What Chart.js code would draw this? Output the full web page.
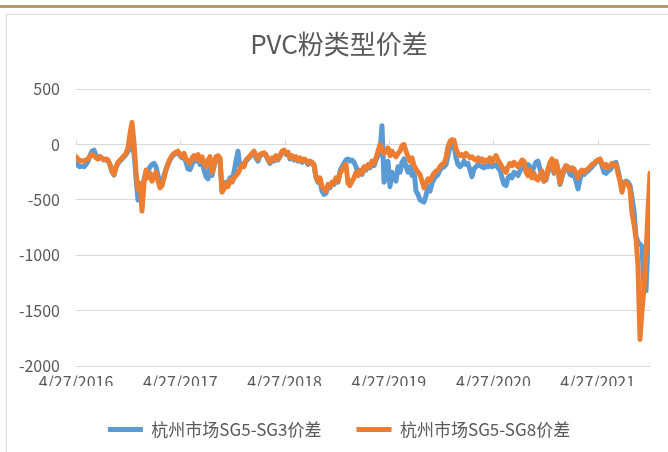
<!DOCTYPE html>
<html>
<head>
<meta charset="utf-8">
<script src="https://cdn.jsdelivr.net/npm/chart.js@4.4.1/dist/chart.umd.min.js"></script>
<style>
  body { margin: 0; background: #fff; }
  #wrap { position: relative; width: 668px; height: 452px; overflow: hidden; }
  #goldBar { position: absolute; left: 0; top: 5px; width: 668px; height: 3px; background: #b8996a; }
  #frame { position: absolute; left: 6px; top: 14px; width: 700px; height: 500px; border: 1px solid #d9d9d9; }
  #chart { position: absolute; left: 0; top: 0; }
</style>
</head>
<body>
<div id="wrap">
  <div id="goldBar"></div>
  <div id="frame"></div>
  <canvas id="chart" width="678" height="452"></canvas>
</div>
<script>
// 周度数据, 起点 4/27/2016, 每点间隔7天
const stepDays = 7

const tickDays = [0, 365, 730, 1095, 1461, 1826]
const tickLabels = ['4/27/2016', '4/27/2017', '4/27/2018', '4/27/2019', '4/27/2020', '4/27/2021']

const seriesNames = ['杭州市场SG5-SG3价差', '杭州市场SG5-SG8价差']

// 杭州市场SG5-SG3价差
const sg3Spread = [
  -150, -190, -200, -195, -200, -180, -150, -100, -60, -50,
  -100, -120, -110, -125, -140, -135, -145, -185, -245, -275,
  -210, -170, -150, -130, -110, -90, -60, -20, 0, -80,
  -300, -500, -480, -420, -320, -250, -240, -200, -180, -170,
  -200, -280, -360, -340, -280, -220, -180, -140, -110, -90,
  -80, -70, -100, -120, -100, -160, -220, -225, -180, -130,
  -150, -110, -180, -140, -230, -290, -310, -200, -280, -200,
  -120, -110, -130, -420, -380, -340, -360, -300, -310, -250,
  -150, -60, -200, -200, -170, -150, -130, -110, -90, -70,
  -120, -150, -100, -90, -80, -100, -140, -170, -130, -150,
  -110, -140, -110, -70, -60, -90, -70, -130, -110, -140,
  -120, -150, -130, -160, -140, -150, -180, -160, -170, -190,
  -300, -340, -330, -420, -450, -440, -380, -390, -350, -360,
  -320, -340, -240, -200, -170, -140, -130, -150, -140, -160,
  -200, -260, -240, -270, -210, -230, -200, -210, -180, -190,
  -140, -100, -60, 170, -340, -280, -150, -380, -250, -300,
  -330, -200, -250, -160, -130, -200, -250, -200, -280, -230,
  -420, -450, -500, -510, -520, -460, -380, -420, -350, -310,
  -290, -270, -230, -210, -200, -180, -100, -20, 10, -10,
  -120, -180, -200, -180, -150, -180, -170, -230, -290, -220,
  -200, -180, -190, -200, -210, -190, -200, -180, -200, -190,
  -180, -210, -230, -300, -360, -370, -300, -280, -300, -250,
  -260, -280, -240, -200, -190, -220, -180, -200, -250, -200,
  -160, -150, -220, -290, -330, -320, -250, -200, -170, -260,
  -160, -230, -360, -290, -240, -210, -220, -270, -280, -250,
  -330, -400, -310, -260, -270, -250, -240, -220, -200, -180,
  -160, -150, -140, -190, -250, -260, -240, -230, -200, -170,
  -160, -230, -320, -380, -340, -330, -340, -370, -480, -600,
  -830, -880, -900, -920, -1300, -1320, -900, -560
]

// 杭州市场SG5-SG8价差
const sg8Spread = [
  -110, -130, -150, -145, -150, -140, -130, -110, -90, -100,
  -120, -130, -110, -125, -135, -130, -140, -180, -240, -270,
  -200, -160, -140, -120, -100, -80, -30, 100, 200, 20,
  -250, -400, -350, -600, -350, -230, -300, -260, -330, -280,
  -250, -330, -390, -370, -300, -230, -170, -130, -100, -80,
  -70, -60, -90, -110, -80, -130, -150, -170, -120, -100,
  -130, -90, -150, -110, -170, -200, -140, -110, -250, -180,
  -110, -100, -120, -430, -400, -350, -380, -320, -340, -300,
  -280, -260, -220, -180, -200, -140, -120, -100, -80, -60,
  -100, -130, -90, -80, -75, -90, -130, -160, -120, -140,
  -100, -130, -100, -60, -50, -80, -70, -120, -100, -130,
  -110, -140, -120, -150, -130, -140, -170, -150, -160, -180,
  -290, -330, -300, -380, -400, -420, -360, -380, -340, -350,
  -300, -330, -260, -230, -200, -180, -350, -370, -330, -300,
  -250, -280, -230, -260, -200, -220, -180, -200, -150, -170,
  -120, -60, 0, -50, -80, -60, -30, -100, -60, -90,
  -110, -80, -60, -10, 0, -60, -110, -150, -120, -190,
  -220, -250, -270, -330, -390, -350, -310, -330, -290, -260,
  -240, -230, -200, -180, -170, -120, -20, 30, 45, 40,
  -40, -80, -100, -90, -110, -80, -100, -120, -110, -130,
  -140, -120, -150, -130, -160, -140, -150, -120, -160, -130,
  -100, -140, -170, -200, -230, -250, -200, -170, -190, -160,
  -180, -200, -170, -140, -150, -250, -280, -230, -300, -260,
  -310, -320, -280, -240, -330, -300, -220, -160, -130, -250,
  -150, -220, -350, -280, -220, -190, -200, -230, -210, -220,
  -260, -300, -250, -230, -250, -230, -220, -200, -180, -170,
  -150, -140, -130, -170, -200, -180, -210, -190, -170, -190,
  -180, -260, -330, -430, -350, -340, -360, -400, -620, -720,
  -850, -1100, -1760, -1500, -1300, -1000, -600, -260
]

const dayLabels = sg8Spread.map((v, i) => i * stepDays)

const textColor = '#595959'
const gridColor = '#d9d9d9'
const fontFamily = '"Noto Sans CJK SC", "Noto Sans", sans-serif'

// 0轴上的小刻度线
const zeroAxisTicks = {
  id: 'zeroAxisTicks',
  beforeDatasetsDraw(chart) {
    const xScale = chart.scales.x
    const yScale = chart.scales.y
    const y0 = yScale.getPixelForValue(0)
    const ctx = chart.ctx
    ctx.save()
    ctx.strokeStyle = gridColor
    ctx.lineWidth = 1
    tickDays.forEach(d => {
      const px = Math.round(xScale.getPixelForValue(d)) + 0.5
      ctx.beginPath()
      ctx.moveTo(px, y0)
      ctx.lineTo(px, y0 - 5)
      ctx.stroke()
    })
    ctx.restore()
  }
}

new Chart(document.getElementById('chart'), {
  type: 'line',
  data: {
    labels: dayLabels,
    datasets: [{
      label: seriesNames[0],
      data: sg3Spread,
      borderColor: '#5b9bd5',
      backgroundColor: '#5b9bd5',
      borderWidth: 5,
      borderCapStyle: 'round',
      borderJoinStyle: 'round',
      pointRadius: 0,
      tension: 0,
      order: 1
    }, {
      label: seriesNames[1],
      data: sg8Spread,
      borderColor: '#ed7d31',
      backgroundColor: '#ed7d31',
      borderWidth: 5,
      borderCapStyle: 'round',
      borderJoinStyle: 'round',
      pointRadius: 0,
      tension: 0,
      order: 0
    }]
  },
  options: {
    responsive: false,
    animation: false,
    layout: { padding: { left: 0, right: 0, top: 0, bottom: 4 } },
    plugins: {
      title: {
        display: true,
        text: 'PVC粉类型价差',
        color: textColor,
        font: { family: fontFamily, size: 26, weight: 'normal' },
        padding: { top: 29, bottom: 29 }
      },
      legend: {
        position: 'bottom',
        labels: {
          color: textColor,
          font: { family: fontFamily, size: 17 },
          usePointStyle: true,
          pointStyle: 'line',
          pointStyleWidth: 35,
          padding: 35,
          sort: (a, b) => a.datasetIndex - b.datasetIndex
        }
      },
      tooltip: { enabled: false }
    },
    scales: {
      x: {
        type: 'linear',
        min: 0,
        max: dayLabels[dayLabels.length - 1],
        grid: { display: false, drawTicks: false },
        border: { display: false },
        afterBuildTicks: scale => {
          scale.ticks = tickDays.map(d => ({ value: d }))
        },
        afterFit: scale => { scale.height = 20 },
        ticks: {
          color: textColor,
          font: { family: fontFamily, size: 16 },
          padding: 6,
          maxRotation: 0,
          autoSkip: false,
          callback: (value, index) => tickLabels[index]
        }
      },
      y: {
        min: -2000,
        max: 500,
        grid: { color: gridColor, lineWidth: 1, drawTicks: false },
        border: { display: false },
        afterFit: scale => { scale.width = 76 },
        ticks: {
          stepSize: 500,
          color: textColor,
          font: { family: fontFamily, size: 16 },
          padding: 16,
          callback: value => String(value)
        }
      },
      // 右侧留白, 仅用于让标题和图例居中位置与原图一致
      yRight: {
        position: 'right',
        display: true,
        grid: { display: false, drawTicks: false },
        border: { display: false },
        ticks: { display: false },
        afterFit: scale => { scale.width = 28 }
      }
    }
  },
  plugins: [zeroAxisTicks]
})
</script>
</body>
</html>
